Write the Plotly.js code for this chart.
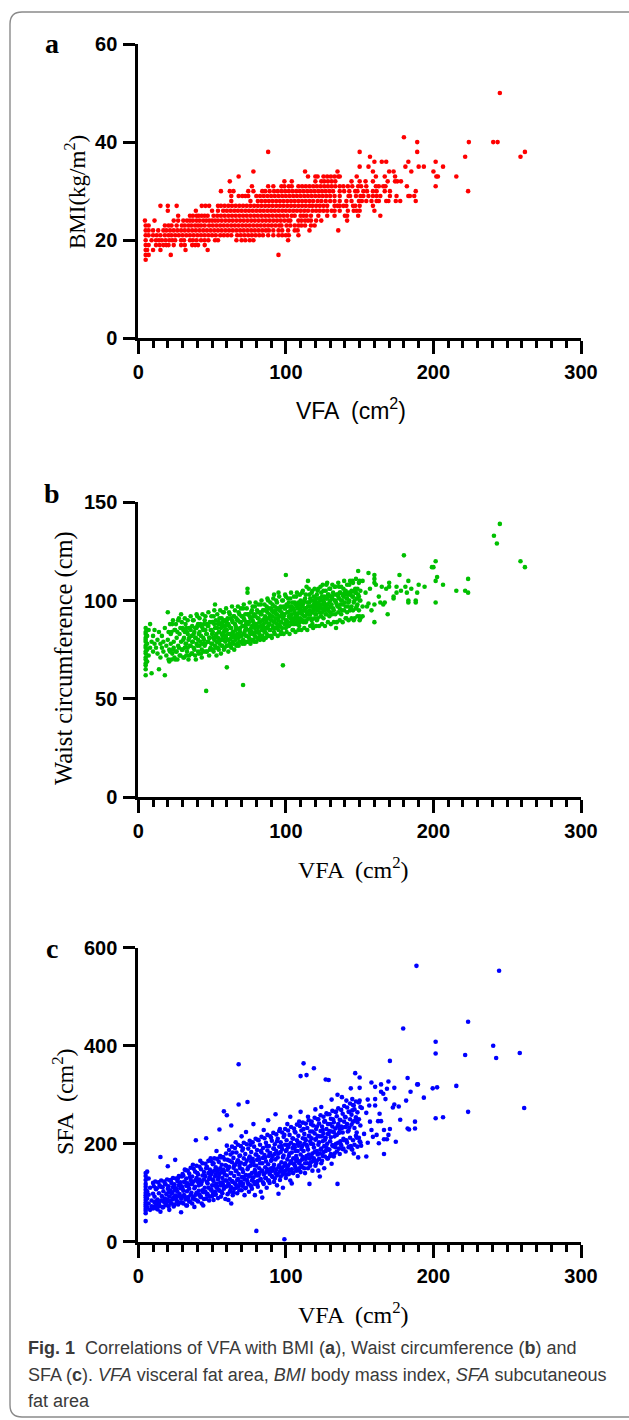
<!DOCTYPE html>
<html>
<head>
<meta charset="utf-8">
<script src="https://cdn.plot.ly/plotly-3.0.1.min.js"></script>
<style>html,body{margin:0;padding:0;background:#fff;}#chart{width:629px;height:1420px;}</style>
</head>
<body>
<div id="chart"></div>
<script>
// ---------- Panel a: BMI (integer levels) vs VFA ----------
const bmiLevels = [16,17,18,19,20,21,22,23,24,25,26,27,28,29,30,31,32,33,34,35,36,37,38,40,41,50];
const vfaAtBmi = [
  [5],
  [5,7,22,95],
  [5,6,10,15,32,47],
  [5,7,12,14.5,17,19,20.5,24,29,31.5,36.5,38.5,40.5,45],
  [5,9,12,14,16,18.5,21,23,25,29,31,35,37,39.5,42.5,45,47.5,52,54,66.5,70,72.5,75.5,78,101.5],
  [5,7,10,12.5,15,18,20.5,22.5,25,27.5,30,32.5,35,37.5,40,42.5,45,47.5,50,52.5,55.5,58,60.5,63,67,69.5,72,74.5,77,79.5,82,84.5,88,91.5,95,97.5,100,102,108.5],
  [5,7,10,13.5,17,19,21.5,24,26.5,29,31.5,34,36.5,39,41.5,44,46.5,49,51.5,54,56.5,59,61.5,64,66.5,69,71.5,74,76.5,79,81.5,84,86.5,88.5,91.5,95,97.5,101.5,106,108,116,135.5],
  [5,7,18,20.5,22.5,26,29.5,31.5,34,36,38.5,40.5,42.5,45,48,50.5,53,55.5,58,60.5,63,65.5,68,70.5,73,75.5,78,80.5,83,85.5,88,90.5,93,95.5,97,100.5,103,106,108.5,110.5,113,117,119.5],
  [4.5,11,24,27,30.5,33,35,37,39.5,41.5,44,46,48,50,52,54,56.5,59,61.5,64,66.5,69,71.5,74,76.5,79,81.5,84,86.5,89,91.5,94,96.5,99,101.5,103,108.5,110.5,113,115,117,120.5,124,141.5],
  [27,35,37,39.5,41,43,45,47,51,53.5,56,58.5,61,63.5,66,68.5,71,73.5,76,78.5,81,83.5,86,88.5,91,93.5,96,98.5,101,104,106,110,112,114,117,122,128,133,140,141.5,149,164],
  [20,39,50,54,57.5,60,62.5,65,67.5,70,72.5,75,77.5,80,82.5,85,87.5,90,92.5,95,97.5,100,102.5,105,107.5,110,112.5,115,118,120.5,123,125.5,128,131,133,136.5,142,146,148,150,160],
  [15,20,26,43,45.5,48,54,56,58.5,61,63.5,66,68.5,71,73.5,76,78.5,81,83.5,86,88.5,91,93.5,96,98.5,101,103.5,106,108.5,111,113.5,116,118,120.5,123,125.5,128,133,135,136.5,139,141,145.5,147,150,159],
  [63,76,81,83.5,86,88.5,91,93.5,96,98.5,101,103.5,106,108.5,111,113.5,116,118.5,121.5,124,127,130,133,136.5,141,144.5,149.5,151.5,154.5,158,161.5,163,168,169.5,174.5,177.5,188],
  [63,68,70.5,72.5,74.5,80,82.5,85,87.5,90,92.5,95,97.5,100,102.5,105,107.5,110,112.5,115,117.5,120,122.5,125,127.5,130,133,136.5,142.5,143.5,147.5,150.5,152.5,156,159,161.5,164,170.5,175,183,184,187],
  [56,62,64.5,74.5,78,84,86,89,92,94.5,97,99.5,102,104.5,107,109.5,112,114.5,117,119.5,122,124.5,127,129.5,132,136.5,139.5,143,147,148.5,152.5,155,159,161.5,167,170.5,188,223.5],
  [77,88,91.5,97,99,102,104,108.5,111,113.5,116,118.5,121,123.5,126,128.5,131,133.5,136.5,139,142,145,149,151,154.5,161,163,166,167.5,182,201.5],
  [62,99,104,120,124,126,128.5,131,133.5,144.5,150,154,159,169,174,175.5,178],
  [68,115,120,121.5,125.5,128,130.5,133,135.5,136.5,148,161,167,174,202,203,215.5],
  [78,113,135,159,170,173,185,200],
  [150,156,181,190,193.5,206.5],
  [160,165,168,183,201.5],
  [157,221.5,259],
  [88,150,189,262],
  [189,224,240.5,243.5],
  [180],
  [245]
];

// ---------- Panel b: Waist circumference vs VFA, [VFA, cm] ----------
const waistLow = [
  [5,62],[5,65],[5,67],[5,68],[5,70],[5,71],[5,73],[5,74],[5,76],[5,77],[5,79],[5,80],[5,81],[5,83],[5,84],[5,86],[6,69],[6,75],[6,78],[6,82],[7,72],[7,85],[8,88],[9,63],[8,76],[9,79],[10,74],[10,82],[11,78],[11,85],
  [12,76],[13,80],[13,73],[14,65],[14,84],[15,78],[15,71],[16,82],[16,76],[17,79],[17,74],[18,62],[18,86],[19,77],[19,72],[20,80],[20,94],[21,75],[21,69],[22,83],[22,78],[23,73],[23,88],[24,79],[24,76],[25,70],[25,85],[26,81],[26,74],[27,90],[27,77],[28,72],[28,83],[29,79],[29,93],[30,75],[30,86],
  [31,81],[31,71],[32,78],[32,88],[33,74],[33,84],[34,80],[34,70],[35,77],[35,86],[36,73],[36,82],[37,79],[37,90],[38,75],[38,84],[39,70],[39,81],[40,77],[40,87],[40,92],[41,73],[41,83],[42,79],[42,88],[43,75],[43,71],[44,81],[44,85],[45,77],[45,90],[46,74],[46,54],[46,83],[47,79],[47,87],[48,72],[48,81],[49,76],[49,85],[50,78],[50,89],[50,83]
];
const waistMid = [
  [51,74],[51,81],[51,92],[52,77],[52,86],[52,98],[53,79],[53,83],[53,72],[54,88],[54,76],[54,81],[55,84],[55,78],[55,91],[56,73],[56,80],[56,86],[57,82],[57,77],[57,89],[58,75],[58,84],[58,94],[59,79],[59,87],[59,82],[60,66],[60,77],[60,85],[60,90],[61,80],[61,74],[61,88],[62,83],[62,78],[62,93],[63,86],[63,81],[63,76],[64,89],[64,84],[64,79],[65,82],[65,92],[65,75],[66,87],[66,80],[66,85],[67,78],[67,90],[67,83],[68,94],[68,81],[68,77],[69,86],[69,89],[69,84],[70,79],[70,92],[70,82],
  [71,57],[71,87],[71,80],[71,96],[72,84],[72,78],[72,90],[73,82],[73,88],[73,86],[74,104],[74,106],[74,79],[74,93],[75,85],[75,81],[75,89],[76,83],[76,91],[76,78],[77,87],[77,95],[77,84],[78,80],[78,89],[78,92],[79,86],[79,82],[79,97],[80,88],[80,84],[80,79],[81,91],[81,86],[81,94],[82,83],[82,89],[82,81],[83,87],[83,93],[83,98],[84,85],[84,90],[84,82],[85,88],[85,95],[85,80],[86,92],[86,86],[86,84],[87,89],[87,97],[87,83],[88,91],[88,87],[88,100],[89,85],[89,93],[89,88],[90,90],[90,96],[90,82],
  [91,87],[91,92],[91,98],[92,89],[92,84],[92,103],[93,91],[93,95],[93,86],[94,88],[94,93],[94,99],[95,85],[95,90],[95,104],[96,92],[96,87],[96,96],[97,89],[97,94],[97,84],[98,67],[98,91],[98,100],[99,88],[99,96],[99,93],[100,113],[100,90],[100,86],[100,102],[101,94],[101,97],[101,89],[102,92],[102,87],[102,99],[103,95],[103,91],[103,101],[104,88],[104,93],[104,97],[105,90],[105,96],[105,85],[106,94],[106,99],[106,91],[107,92],[107,88],[107,102],[108,96],[108,93],[108,90],[109,98],[109,94],[109,87],[110,91],[110,100],[110,95]
];
const waistHigh = [
  [111,93],[111,104],[111,97],[112,89],[112,95],[112,99],[113,92],[113,101],[113,96],[114,94],[114,90],[114,107],[115,110],[115,97],[115,93],[116,99],[116,95],[116,103],[117,91],[117,97],[117,100],[118,94],[118,105],[118,88],[119,98],[119,96],[119,102],[120,93],[120,100],[120,97],[121,95],[121,103],[121,90],[122,99],[122,96],[122,106],[123,101],[123,94],[123,97],[124,98],[124,104],[124,92],[125,100],[125,96],[125,108],[126,95],[126,102],[126,99],[127,97],[127,105],[127,93],[128,101],[128,98],[128,109],[129,96],[129,103],[130,100],[130,94],[130,106],
  [131,98],[131,102],[132,104],[132,96],[133,100],[133,107],[134,86],[134,99],[135,103],[135,97],[136,101],[136,107],[137,98],[137,104],[138,100],[138,95],[139,106],[139,102],[140,99],[140,104],[141,101],[141,91],[142,103],[142,97],[143,108],[143,100],[144,104],[144,96],[145,110],[145,102],[146,99],[146,90],[147,104],[147,106],[148,101],[148,97],[149,103],[149,115],[150,100],[150,110],[150,92],[150,90],
  [152,110],[152,97],[152,92],[154,104],[155,97],[156,114],[156,98.5],[157,106],[158,95],[160,113],[160,111],[160,109],[160,98],[160,89],[161,108],[163,102],[164,99],[165,107],[166,98],[167,99],[168,106],[169,93],[170,109],[170,107],[173,102],[173,101],[175,104],[175,107],[177,113],[178,105],[181,107],[182,104],[183,110],[183,100],[183,99],[185,106],[188,100],[188,99],[189,104],[190,108],[194,107],
  [180,123],[199,117],[200,117],[201.5,120],[202.5,112],[201.5,110],[206.5,108],[201.5,99],[215.5,105],[221.5,105],[223.5,104],[223.5,111],[241,133],[243,129],[245,139],[259,120],[262,117]
];
// extra points read from the dense green core
const waistCore = [
  [20.5,70],[20.5,84],[21.5,74],[21.5,88],[22.5,70],[22.5,84],[23.5,75],[23.5,90],[24.5,71],[24.5,85],[25.5,74],[25.5,88],[26.5,70],[26.5,84],[27.5,76],[27.5,91],[28.5,72],[28.5,86],[29.5,75],[29.5,89],
  [30.5,71],[30.5,80],[30.5,85],[31.5,76],[31.5,84],[31.5,91],[32.5,72],[32.5,78],[32.5,86],[33.5,76],[33.5,83],[33.5,90],[34.5,72],[34.5,81],[34.5,86],[35.5,77],[35.5,85],[35.5,92],[36.5,73],[36.5,79],[36.5,87],[37.5,76],[37.5,83],[37.5,90],[38.5,72],[38.5,81],[38.5,86],[39.5,78],[39.5,86],[39.5,93],
  [40.5,74],[40.5,80],[40.5,88],[41.5,77],[41.5,84],[41.5,91],[42.5,73],[42.5,82],[42.5,87],[43.5,78],[43.5,86],[43.5,93],[44.5,74],[44.5,80],[44.5,88],[45.5,78],[45.5,85],[45.5,92],[46.5,74],[46.5,83],[46.5,88],[47.5,79],[47.5,87],[47.5,94],[48.5,75],[48.5,81],[48.5,89],[49.5,78],[49.5,85],[49.5,92],
  [50.5,75],[50.5,84],[50.5,89],[51.5,80],[51.5,88],[51.5,95],[52.5,76],[52.5,82],[52.5,90],[53.5,79],[53.5,86],[53.5,93],[54.5,75],[54.5,84],[54.5,89],[55.5,80],[55.5,88],[55.5,95],[56.5,77],[56.5,83],[56.5,91],[57.5,80],[57.5,87],[57.5,94],[58.5,76],[58.5,85],[58.5,90],[59.5,81],[59.5,89],[59.5,96],
  [60.5,77],[60.5,83],[60.5,91],[61.5,80],[61.5,87],[61.5,94],[62.5,77],[62.5,86],[62.5,91],[63.5,82],[63.5,90],[63.5,97],[64.5,78],[64.5,84],[64.5,92],[65.5,81],[65.5,88],[65.5,95],[66.5,77],[66.5,86],[66.5,91],[67.5,82],[67.5,90],[67.5,97],[68.5,79],[68.5,85],[68.5,93],[69.5,82],[69.5,89],[69.5,96],
  [70.5,78],[70.5,87],[70.5,92],[71.5,83],[71.5,91],[71.5,98],[72.5,79],[72.5,85],[72.5,93],[73.5,82],[73.5,89],[73.5,96],[74.5,79],[74.5,88],[74.5,93],[75.5,84],[75.5,92],[75.5,99],[76.5,80],[76.5,86],[76.5,94],[77.5,83],[77.5,90],[77.5,97],[78.5,79],[78.5,88],[78.5,93],[79.5,84],[79.5,92],[79.5,99],
  [80.5,81],[80.5,87],[80.5,95],[81.5,84],[81.5,91],[81.5,98],[82.5,80],[82.5,89],[82.5,94],[83.5,85],[83.5,93],[83.5,100],[84.5,81],[84.5,87],[84.5,95],[85.5,84],[85.5,91],[85.5,98],[86.5,81],[86.5,90],[86.5,95],[87.5,86],[87.5,94],[87.5,101],[88.5,82],[88.5,88],[88.5,96],[89.5,85],[89.5,92],[89.5,99],
  [90.5,81],[90.5,90],[90.5,95],[91.5,86],[91.5,94],[91.5,101],[92.5,83],[92.5,89],[92.5,97],[93.5,86],[93.5,93],[93.5,100],[94.5,82],[94.5,91],[94.5,96],[95.5,87],[95.5,95],[95.5,102],[96.5,83],[96.5,89],[96.5,97],[97.5,86],[97.5,93],[97.5,100],[98.5,83],[98.5,92],[98.5,97],[99.5,88],[99.5,96],[99.5,103],
  [100.5,84],[100.5,90],[100.5,98],[101.5,87],[101.5,94],[101.5,101],[102.5,83],[102.5,92],[102.5,97],[103.5,89],[103.5,97],[103.5,104],[104.5,85],[104.5,91],[104.5,99],[105.5,88],[105.5,95],[105.5,102],[106.5,84],[106.5,93],[106.5,98],[107.5,89],[107.5,97],[107.5,104],[108.5,85],[108.5,91],[108.5,99],[109.5,89],[109.5,96],[109.5,103],
  [110.5,85],[110.5,94],[110.5,99],[111.5,90],[111.5,98],[111.5,105],[112.5,86],[112.5,92],[112.5,100],[113.5,89],[113.5,96],[113.5,103],[114.5,85],[114.5,94],[114.5,99],[115.5,91],[115.5,99],[115.5,106],[116.5,87],[116.5,93],[116.5,101],[117.5,90],[117.5,97],[117.5,104],[118.5,86],[118.5,95],[118.5,100],[119.5,91],[119.5,99],[119.5,106],
  [120.5,87],[120.5,93],[120.5,101],[121.5,91],[121.5,98],[121.5,105],[122.5,87],[122.5,96],[122.5,101],[123.5,92],[123.5,100],[123.5,107],[124.5,88],[124.5,94],[124.5,102],[125.5,91],[125.5,98],[125.5,105],[126.5,87],[126.5,96],[126.5,101],[127.5,93],[127.5,101],[127.5,108],[128.5,89],[128.5,95],[128.5,103],[129.5,92],[129.5,99],[129.5,106],
  [130.5,88],[130.5,97],[130.5,102],[131.5,93],[131.5,101],[131.5,108],[132.5,89],[132.5,95],[132.5,103],[133.5,93],[133.5,100],[133.5,107],[134.5,89],[134.5,98],[134.5,103],[135.5,94],[135.5,102],[135.5,109],[136.5,90],[136.5,96],[136.5,104],[137.5,93],[137.5,100],[137.5,107],[138.5,89],[138.5,98],[138.5,103],[139.5,95],[139.5,103],[139.5,110],
  [140.5,91],[140.5,97],[140.5,105],[141.5,94],[141.5,101],[141.5,108],[142.5,90],[142.5,99],[142.5,104],[143.5,95],[143.5,103],[143.5,110],[144.5,91],[144.5,97],[144.5,105],[145.5,95],[145.5,102],[145.5,109],[146.5,91],[146.5,100],[146.5,105],[147.5,96],[147.5,104],[147.5,111],[148.5,92],[148.5,98],[148.5,106],[149.5,95],[149.5,102],[149.5,109],[150.5,91],[150.5,100],[150.5,105]
];

// ---------- Panel c: SFA vs VFA, [VFA, cm2] ----------
const sfaLow = [
  [5,42],[5,58],[5,63],[5,67],[5,72],[5,76],[5,80],[5,85],[5,90],[5,95],[5,100],[5,106],[5,112],[5,118],[5,126],[5,134],[5,140],[6,70],[6,88],[6,103],[6,143],[7,129],[7,78],[7,96],[8,65],[8,110],[9,84],[9,72],[10,98],[10,120],[10,68],
  [11,80],[11,92],[12,107],[12,74],[13,86],[13,66],[14,99],[14,78],[15,173],[15,61],[15,112],[16,84],[16,93],[17,71],[17,103],[18,88],[18,118],[19,76],[19,97],[20,154],[20,82],[20,108],[21,65],[21,92],[22,126],[22,78],[23,100],[23,86],[24,113],[24,72],[25,167],[25,94],[26,83],[26,105],[27,130],[27,76],[28,97],[28,117],[29,60],[29,88],[30,108],[30,138],[30,80],
  [31,95],[31,122],[32,86],[32,146],[33,103],[33,74],[34,114],[34,91],[35,82],[35,132],[36,100],[36,118],[37,88],[37,157],[38,71],[38,109],[39,207],[39,96],[39,126],[40,84],[40,140],[41,104],[41,115],[42,92],[42,165],[43,122],[43,78],[44,101],[44,74],[45,135],[45,110],[46,211],[46,88],[46,150],[47,97],[47,119],[48,128],[48,84],[49,106],[49,170],[50,93],[50,142],[50,115]
];
const sfaMid = [
  [51,85],[51,124],[51,160],[52,102],[52,133],[52,96],[53,118],[53,185],[53,110],[54,89],[54,146],[54,127],[55,229],[55,104],[55,138],[56,115],[56,92],[56,172],[57,130],[57,121],[57,99],[58,266],[58,143],[58,108],[59,156],[59,87],[59,125],[60,258],[60,113],[60,135],[60,196],[61,85],[61,150],[61,119],[62,102],[62,128],[62,165],[63,237],[63,78],[63,140],[63,111],[64,122],[64,182],[64,95],[65,134],[65,155],[65,108],[66,117],[66,145],[66,203],[67,126],[67,99],[67,162],[68,362],[68,280],[68,138],[68,113],[69,150],[69,120],[69,176],[70,105],[70,132],[70,215],
  [71,142],[71,118],[71,190],[72,95],[72,127],[72,158],[73,136],[73,110],[73,224],[74,285],[74,148],[74,122],[75,170],[75,102],[75,133],[76,115],[76,155],[76,198],[77,140],[77,125],[77,108],[78,163],[78,131],[78,240],[79,95],[79,146],[79,118],[80,22],[80,178],[80,135],[80,155],[81,124],[81,208],[81,112],[82,150],[82,140],[82,168],[83,128],[83,185],[83,102],[84,145],[84,160],[84,90],[85,137],[85,228],[85,118],[86,172],[86,152],[86,130],[87,143],[87,195],[87,110],[88,158],[88,125],[88,248],[89,138],[89,180],[89,120],[90,150],[90,165],[90,212],
  [91,132],[91,175],[91,145],[92,122],[92,190],[92,157],[93,140],[93,260],[93,168],[94,135],[94,205],[94,115],[95,98],[95,152],[95,180],[96,143],[96,230],[96,126],[97,162],[97,148],[97,195],[98,137],[98,172],[98,110],[99,5],[99,155],[99,218],[100,145],[100,185],[100,130],[101,168],[101,240],[101,150],[102,138],[102,198],[102,175],[103,160],[103,125],[103,255],[104,119],[104,182],[104,148],[105,170],[105,210],[105,140],[106,156],[106,192],[106,225],[107,145],[107,175],[107,165],[108,134],[108,200],[108,185],[109,160],[109,245],[109,150],[110,338],[110,178],[110,142],[110,265]
];
const sfaHigh = [
  [111,168],[111,195],[111,152],[112,364],[112,185],[112,230],[113,160],[113,210],[113,140],[114,340],[114,175],[114,198],[115,150],[115,255],[115,188],[116,118],[116,170],[116,215],[117,200],[117,162],[117,240],[118,180],[118,145],[118,225],[119,354],[119,192],[119,170],[120,155],[120,208],[120,270],[121,185],[121,235],[121,165],[122,198],[122,145],[122,250],[123,133],[123,215],[123,180],[124,190],[124,275],[124,160],[125,205],[125,228],[125,175],[126,245],[126,195],[126,150],[127,331],[127,212],[127,185],[128,170],[128,260],[128,200],[129,330],[129,220],[129,188],[130,175],[130,240],[130,205],
  [131,159],[131,225],[131,290],[132,195],[132,250],[133,180],[133,215],[134,265],[134,200],[135,118],[135,235],[135,300],[136,190],[136,222],[137,248],[137,205],[138,295],[138,232],[139,210],[139,190],[140,255],[140,234],[141,288],[141,207],[142,225],[143,265],[143,233],[144,313],[144,195],[145,291],[145,268],[145,188],[146,278],[146,180],[147,248],[147,344],[148,223],[148,212],[149,172],[150,335],[150,314],[150,288],[150,205],
  [151.5,273],[151,196],[153,220],[154.5,263],[154.5,174],[155.5,290],[155.5,202],[156.5,278],[157,245],[158,325],[158,228],[159,214],[160.5,316],[160.5,291],[160.5,278],[161.5,218],[162.5,246],[163,201],[163.5,261],[164.5,321],[164.5,306],[164.5,246],[166,302],[166.5,228],[166.5,209],[166.5,179],[167.5,291],[168.5,312],[168.5,209],[169.5,327],[169.5,218],[170.5,369],[170.5,230],[172.5,274],[173.5,314],[173.5,280],[174.5,204],[176.5,276],[177.5,249],[179.5,435],
  [181.5,288],[182.5,334],[182.5,231],[183.5,229],[184.5,306],[187.5,245],[187.5,231],[188.5,563],[189,321],[189.5,321],[193.5,294],[199.5,313],[201.5,408],[201.5,384],[201.5,252],[202.5,315],[206.5,254],[215.5,318],[221.5,381],[223.5,449],[223.5,265],[240.5,400],[242.5,375],[244.5,553],[258.5,385],[261.5,273]
];
// extra points read from the dense blue core
const sfaCore = [
  [10.5,71],[10.5,113],[11.5,82],[11.5,123],[12.5,68],[12.5,109],[13.5,79],[13.5,121],[14.5,73],[14.5,115],[15.5,84],[15.5,125],[16.5,70],[16.5,111],[17.5,81],[17.5,123],[18.5,75],[18.5,117],[19.5,86],[19.5,127],
  [20.5,72],[20.5,101],[20.5,113],[21.5,83],[21.5,105],[21.5,125],[22.5,78],[22.5,98],[22.5,120],[23.5,89],[23.5,111],[23.5,130],[24.5,76],[24.5,105],[24.5,117],[25.5,87],[25.5,109],[25.5,129],[26.5,82],[26.5,102],[26.5,124],[27.5,93],[27.5,115],[27.5,134],[28.5,80],[28.5,109],[28.5,121],[29.5,91],[29.5,113],[29.5,133],
  [30.5,78],[30.5,104],[30.5,135],[31.5,92],[31.5,122],[31.5,147],[32.5,74],[32.5,114],[32.5,129],[33.5,88],[33.5,119],[33.5,145],[34.5,82],[34.5,108],[34.5,139],[35.5,96],[35.5,126],[35.5,151],[36.5,78],[36.5,118],[36.5,133],[37.5,92],[37.5,123],[37.5,149],[38.5,86],[38.5,112],[38.5,143],[39.5,100],[39.5,130],[39.5,155],
  [40.5,82],[40.5,122],[40.5,137],[41.5,96],[41.5,127],[41.5,153],[42.5,91],[42.5,117],[42.5,148],[43.5,105],[43.5,135],[43.5,160],[44.5,87],[44.5,127],[44.5,142],[45.5,102],[45.5,133],[45.5,159],[46.5,96],[46.5,122],[46.5,153],[47.5,110],[47.5,140],[47.5,165],[48.5,92],[48.5,132],[48.5,147],[49.5,107],[49.5,138],[49.5,164],
  [50.5,101],[50.5,127],[50.5,158],[51.5,115],[51.5,145],[51.5,170],[52.5,97],[52.5,137],[52.5,152],[53.5,112],[53.5,143],[53.5,169],[54.5,106],[54.5,132],[54.5,163],[55.5,120],[55.5,150],[55.5,175],[56.5,102],[56.5,142],[56.5,157],[57.5,116],[57.5,147],[57.5,173],[58.5,111],[58.5,137],[58.5,168],[59.5,125],[59.5,155],[59.5,180],
  [60.5,97],[60.5,147],[60.5,167],[61.5,115],[61.5,153],[61.5,187],[62.5,106],[62.5,140],[62.5,178],[63.5,124],[63.5,162],[63.5,194],[64.5,101],[64.5,151],[64.5,171],[65.5,119],[65.5,157],[65.5,191],[66.5,110],[66.5,144],[66.5,182],[67.5,128],[67.5,166],[67.5,198],[68.5,105],[68.5,155],[68.5,175],[69.5,123],[69.5,161],[69.5,195],
  [70.5,114],[70.5,148],[70.5,186],[71.5,132],[71.5,170],[71.5,202],[72.5,109],[72.5,159],[72.5,179],[73.5,127],[73.5,165],[73.5,199],[74.5,118],[74.5,152],[74.5,190],[75.5,136],[75.5,174],[75.5,206],[76.5,113],[76.5,163],[76.5,183],[77.5,131],[77.5,169],[77.5,203],[78.5,122],[78.5,156],[78.5,194],[79.5,140],[79.5,178],[79.5,210],
  [80.5,117],[80.5,167],[80.5,187],[81.5,135],[81.5,173],[81.5,207],[82.5,126],[82.5,160],[82.5,198],[83.5,144],[83.5,182],[83.5,214],[84.5,121],[84.5,171],[84.5,191],[85.5,139],[85.5,177],[85.5,211],[86.5,130],[86.5,164],[86.5,202],[87.5,148],[87.5,186],[87.5,218],[88.5,125],[88.5,175],[88.5,195],[89.5,143],[89.5,181],[89.5,215],
  [90.5,134],[90.5,168],[90.5,206],[91.5,152],[91.5,190],[91.5,222],[92.5,129],[92.5,179],[92.5,199],[93.5,147],[93.5,185],[93.5,219],[94.5,138],[94.5,172],[94.5,210],[95.5,156],[95.5,194],[95.5,226],[96.5,133],[96.5,183],[96.5,203],[97.5,151],[97.5,189],[97.5,223],[98.5,142],[98.5,176],[98.5,214],[99.5,160],[99.5,198],[99.5,230],
  [100.5,137],[100.5,187],[100.5,207],[101.5,155],[101.5,193],[101.5,227],[102.5,146],[102.5,180],[102.5,218],[103.5,164],[103.5,202],[103.5,234],[104.5,141],[104.5,191],[104.5,211],[105.5,159],[105.5,197],[105.5,231],[106.5,151],[106.5,185],[106.5,223],[107.5,169],[107.5,207],[107.5,239],[108.5,146],[108.5,196],[108.5,216],[109.5,164],[109.5,202],[109.5,236],
  [110.5,155],[110.5,189],[110.5,227],[111.5,173],[111.5,211],[111.5,243],[112.5,150],[112.5,200],[112.5,220],[113.5,169],[113.5,207],[113.5,241],[114.5,160],[114.5,194],[114.5,232],[115.5,178],[115.5,216],[115.5,248],[116.5,155],[116.5,205],[116.5,225],[117.5,173],[117.5,211],[117.5,245],[118.5,165],[118.5,199],[118.5,237],[119.5,183],[119.5,221],[119.5,253],
  [120.5,160],[120.5,210],[120.5,230],[121.5,178],[121.5,216],[121.5,250],[122.5,169],[122.5,203],[122.5,241],[123.5,188],[123.5,226],[123.5,258],[124.5,165],[124.5,215],[124.5,235],[125.5,183],[125.5,221],[125.5,255],[126.5,174],[126.5,208],[126.5,246],[127.5,192],[127.5,230],[127.5,262],[128.5,170],[128.5,220],[128.5,240],[129.5,188],[129.5,226],[129.5,260],
  [130.5,179],[130.5,213],[130.5,251],[131.5,197],[131.5,235],[131.5,267],[132.5,174],[132.5,224],[132.5,244],[133.5,193],[133.5,231],[133.5,265],[134.5,184],[134.5,218],[134.5,256],[135.5,202],[135.5,240],[135.5,272],[136.5,179],[136.5,229],[136.5,249],[137.5,197],[137.5,235],[137.5,269],[138.5,189],[138.5,223],[138.5,261],[139.5,207],[139.5,245],[139.5,277],
  [140.5,184],[140.5,234],[140.5,254],[141.5,202],[141.5,240],[141.5,274],[142.5,193],[142.5,227],[142.5,265],[143.5,212],[143.5,250],[143.5,282],[144.5,189],[144.5,239],[144.5,259],[145.5,207],[145.5,245],[145.5,279],[146.5,198],[146.5,232],[146.5,270],[147.5,216],[147.5,254],[147.5,286],[148.5,194],[148.5,244],[148.5,264],[149.5,212],[149.5,250],[149.5,284],[150.5,203],[150.5,237],[150.5,275]
];

// ---------- Axis tick values ----------
const vfaTicks = [0,100,200,300];
const vfaMinorTicks = [10,20,30,40,50,60,70,80,90,110,120,130,140,150,160,170,180,190,210,220,230,240,250,260,270,280,290];
const bmiTicks = [0,20,40,60];
const waistTicks = [0,50,100,150];
const sfaTicks = [0,200,400,600];

// ---------- build traces ----------
const ax = [], ay = [];
bmiLevels.forEach((b,i)=>{ vfaAtBmi[i].forEach(v=>{ ax.push(v); ay.push(b); }); });
const waistAll = waistLow.concat(waistCore, waistMid, waistHigh);
const sfaAll = sfaLow.concat(sfaCore, sfaMid, sfaHigh);

const mk = (c)=>({color:c, size:4.6, line:{width:0}});
const traces = [
  {type:'scatter', mode:'markers', x:ax, y:ay, xaxis:'x', yaxis:'y', marker:mk('#ff0000'), hoverinfo:'skip', cliponaxis:false},
  {type:'scatter', mode:'markers', x:waistAll.map(p=>p[0]), y:waistAll.map(p=>p[1]), xaxis:'x2', yaxis:'y2', marker:mk('#00c000'), hoverinfo:'skip', cliponaxis:false},
  {type:'scatter', mode:'markers', x:sfaAll.map(p=>p[0]), y:sfaAll.map(p=>p[1]), xaxis:'x3', yaxis:'y3', marker:mk('#0000ff'), hoverinfo:'skip', cliponaxis:false}
];

const W = 629, H = 1420;
const px = x => x / W;
const py = y => 1 - y / H;
const xDom = [px(138.3), px(581)];
const tickFont = {family:'Liberation Sans, Arial, sans-serif', size:20, color:'#000'};
const boldText = v => '<b>' + v + '</b>';

function xAxis(anchor){
  return {domain:xDom, anchor:anchor, range:[0,300], tickvals:vfaTicks, ticktext:vfaTicks.map(boldText),
    showline:true, linewidth:3, linecolor:'#000', ticks:'outside', ticklen:13, tickwidth:3, tickcolor:'#000',
    minor:{tickvals:vfaMinorTicks, ticks:'outside', ticklen:7, tickwidth:3, tickcolor:'#000', showgrid:false},
    showgrid:false, zeroline:false, tickfont:tickFont, ticklabelstandoff:1, fixedrange:true};
}
function yAxis(anchor, dom, range, tv){
  return {domain:dom, anchor:anchor, range:range, tickvals:tv, ticktext:tv.map(boldText),
    showline:true, linewidth:3, linecolor:'#000', ticks:'outside', ticklen:12, tickwidth:3, tickcolor:'#000',
    showgrid:false, zeroline:false, tickfont:tickFont, ticklabelstandoff:2, fixedrange:true};
}

const times = 'Liberation Serif, Times New Roman, serif';
const arial = 'Liberation Sans, Arial, sans-serif';
const capFont = 'Liberation Sans, Arial, sans-serif';
function ann(text, x, y, font, opts){
  return Object.assign({text:text, x:px(x), y:py(y), xref:'paper', yref:'paper', showarrow:false,
    xanchor:'center', yanchor:'middle', font:font}, opts||{});
}

const annotations = [
  ann('<b>a</b>', 52, 44, {family:times, size:28, color:'#000'}),
  ann('<b>b</b>', 52, 493, {family:times, size:28, color:'#000'}),
  ann('<b>c</b>', 52, 948, {family:times, size:28, color:'#000'}),
  ann('BMI(kg/m<sup>2</sup>)', 75, 192, {family:times, size:23, color:'#000'}, {textangle:-90}),
  ann('Waist circumference (cm)', 64, 658, {family:times, size:24.5, color:'#000'}, {textangle:-90}),
  ann('SFA  (cm<sup>2</sup>)', 63, 1102, {family:times, size:24, color:'#000'}, {textangle:-90}),
  ann('VFA  (cm<sup>2</sup>)', 351, 409, {family:arial, size:23, color:'#000'}),
  ann('VFA  (cm<sup>2</sup>)', 353, 868, {family:times, size:24, color:'#000'}),
  ann('VFA  (cm<sup>2</sup>)', 353, 1313, {family:times, size:24, color:'#000'}),
  ann('<b>Fig. 1</b>  Correlations of VFA with BMI (<b>a</b>), Waist circumference (<b>b</b>) and', 26, 1348, {family:capFont, size:18, color:'#3a3a3a'}, {xanchor:'left'}),
  ann('SFA (<b>c</b>). <i>VFA</i> visceral fat area, <i>BMI</i> body mass index, <i>SFA</i> subcutaneous', 26, 1375, {family:capFont, size:18, color:'#3a3a3a'}, {xanchor:'left'}),
  ann('fat area', 26, 1401, {family:capFont, size:18, color:'#3a3a3a'}, {xanchor:'left'})
];

// rounded frame (right edge runs off the page)
const fx0 = px(10), fx1 = px(650), fy0 = py(12), fy1 = py(1417), rx = px(12), ry = 12 / H;
const framePath = `M ${fx1} ${fy0} L ${fx0+rx} ${fy0} Q ${fx0} ${fy0} ${fx0} ${fy0-ry} L ${fx0} ${fy1+ry} Q ${fx0} ${fy1} ${fx0+rx} ${fy1} L ${fx1} ${fy1}`;

const layout = {
  width:W, height:H, margin:{l:0,r:0,t:0,b:0}, paper_bgcolor:'#fff', plot_bgcolor:'rgba(0,0,0,0)',
  showlegend:false,
  xaxis: xAxis('y'),
  yaxis: yAxis('x', [py(338.3), py(44)], [0,60], bmiTicks),
  xaxis2: xAxis('y2'),
  yaxis2: yAxis('x2', [py(797), py(502.3)], [0,150], waistTicks),
  xaxis3: xAxis('y3'),
  yaxis3: yAxis('x3', [py(1241.7), py(947.7)], [0,600], sfaTicks),
  annotations: annotations,
  shapes:[{type:'path', xref:'paper', yref:'paper', path:framePath, line:{color:'#8a8a8a', width:1.4}, layer:'below'}]
};

Plotly.newPlot('chart', traces, layout, {staticPlot:true, displayModeBar:false});
</script>
</body>
</html>
